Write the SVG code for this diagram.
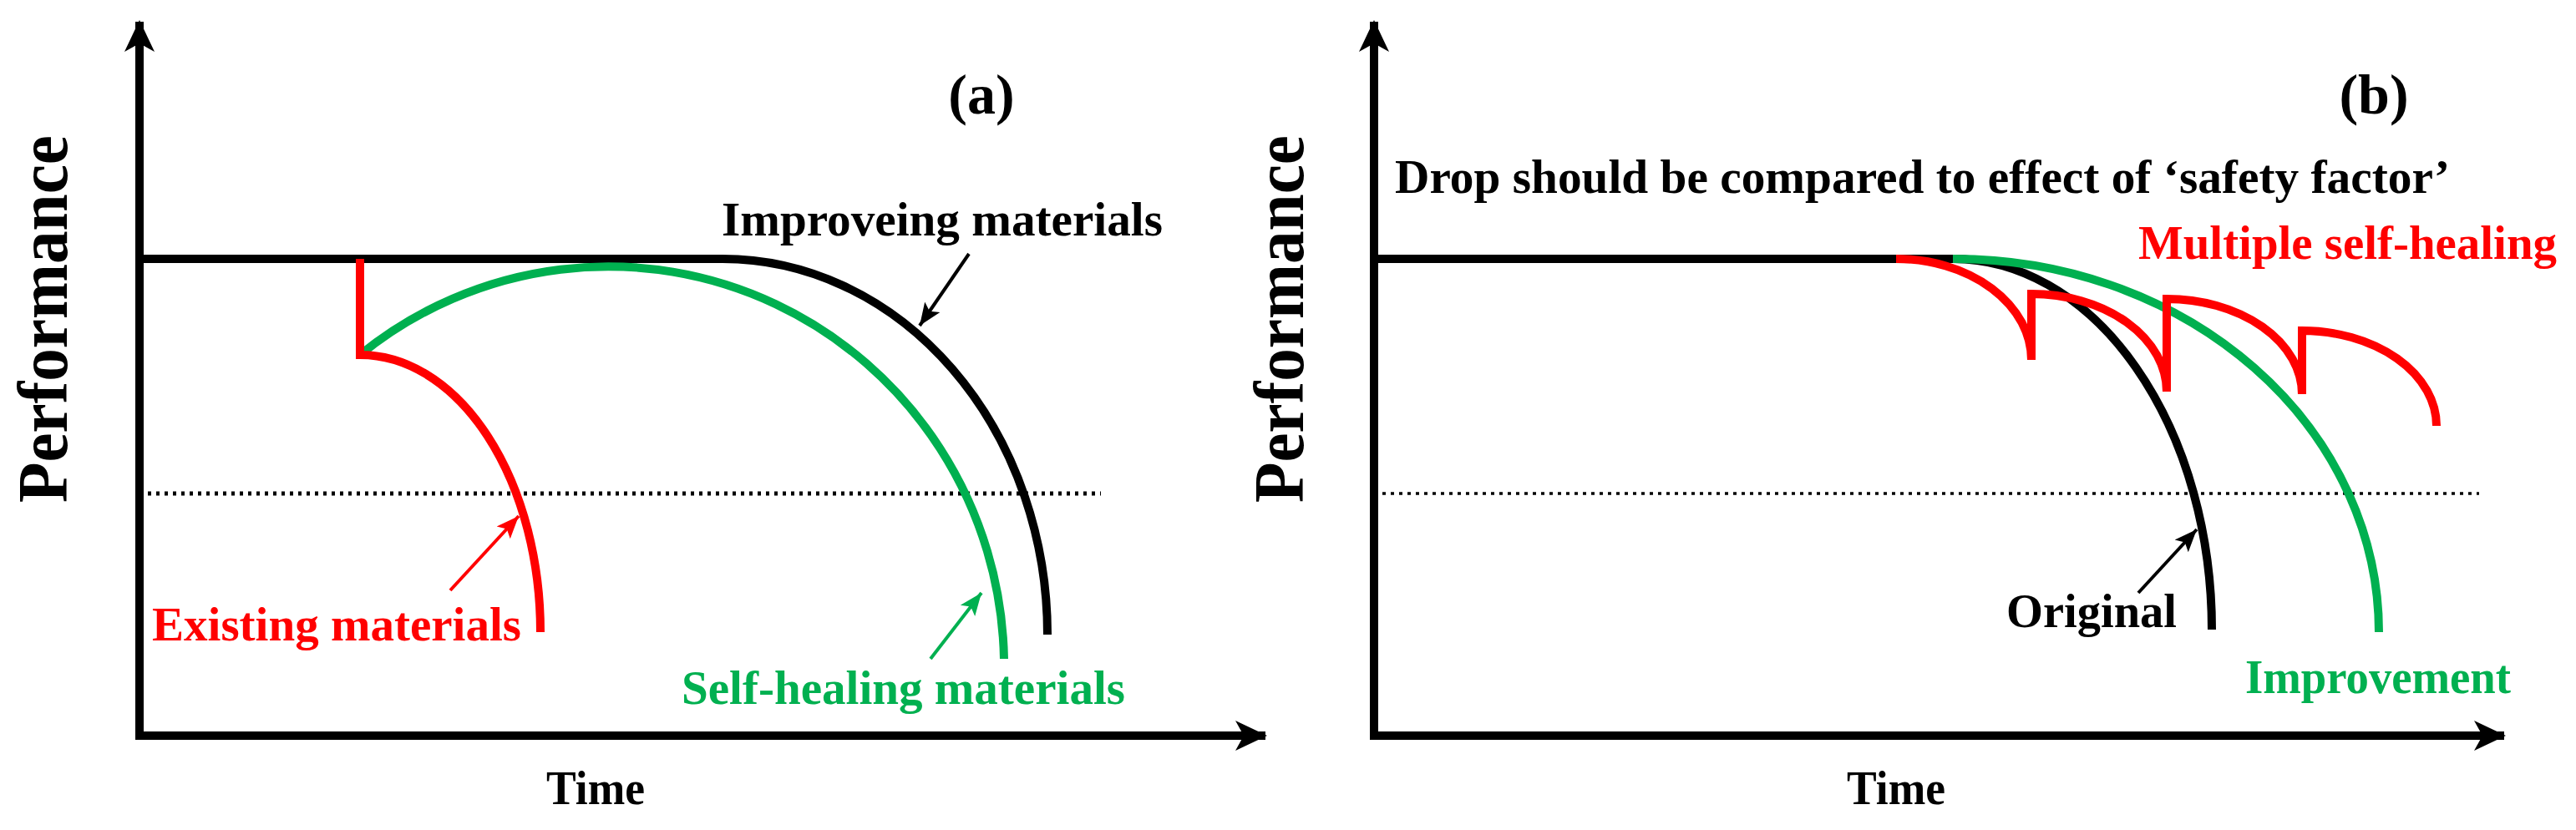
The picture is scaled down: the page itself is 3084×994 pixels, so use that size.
<svg xmlns="http://www.w3.org/2000/svg" width="3084" height="994" viewBox="0 0 3084 994">
<style>
text{font-family:"Liberation Serif","Times New Roman",serif;font-weight:bold}
.ax{stroke:#000;stroke-width:10;fill:none}
.c{fill:none;stroke-width:10}
.k{stroke:#000}.r{stroke:#ff0000}.g{stroke:#00b050}
.dot{stroke:#000;stroke-dasharray:4,6;fill:none}
.lb{font-size:58px}
</style>
<defs>
<marker id="ahk" markerWidth="28" markerHeight="28" refX="27" refY="14" orient="auto" markerUnits="userSpaceOnUse"><path d="M0,3 L27,14 L0,25 L6,14 Z" fill="#000"/></marker>
<marker id="ahr" markerWidth="28" markerHeight="28" refX="27" refY="14" orient="auto" markerUnits="userSpaceOnUse"><path d="M0,3 L27,14 L0,25 L6,14 Z" fill="#ff0000"/></marker>
<marker id="ahg" markerWidth="28" markerHeight="28" refX="27" refY="14" orient="auto" markerUnits="userSpaceOnUse"><path d="M0,3 L27,14 L0,25 L6,14 Z" fill="#00b050"/></marker>
<marker id="axh" markerWidth="40" markerHeight="40" refX="36" refY="20" orient="auto" markerUnits="userSpaceOnUse"><path d="M0,2 L38,20 L0,38 L10,20 Z" fill="#000"/></marker>
</defs>
<g id="panel-a">
<g id="axes-a">
<path class="ax" d="M167,881 L167,26" marker-end="url(#axh)"/>
<path class="ax" d="M162,881 L1515,881" marker-end="url(#axh)"/>
</g>
<line class="dot" x1="167" y1="591" x2="1318" y2="591" stroke-width="5"/>
<g id="curve-improving"><path class="c k" d="M167,310 L865,310 A389,450 0 0 1 1254,760"/></g>
<g id="curve-selfhealing"><path class="c g" d="M431,425 A474,479 0 0 1 1202,789"/></g>
<g id="curve-existing"><path class="c r" d="M431,310 L431,425 A216,332 0 0 1 647,757"/></g>
<g id="connectors-a">
<line x1="1160" y1="304" x2="1101" y2="390" stroke="#000" stroke-width="4" marker-end="url(#ahk)"/>
<line x1="539" y1="707" x2="621" y2="618" stroke="#ff0000" stroke-width="4" marker-end="url(#ahr)"/>
<line x1="1114" y1="789" x2="1175" y2="710" stroke="#00b050" stroke-width="4" marker-end="url(#ahg)"/>
</g>
<text x="1175" y="136" font-size="68" text-anchor="middle">(a)</text>
<text class="lb" x="864" y="282" textLength="528" lengthAdjust="spacingAndGlyphs">Improveing materials</text>
<text class="lb" x="182" y="767" fill="#ff0000" textLength="442" lengthAdjust="spacingAndGlyphs">Existing materials</text>
<text class="lb" x="816" y="843" fill="#00b050" textLength="531" lengthAdjust="spacingAndGlyphs">Self-healing materials</text>
<text class="lb" x="654" y="963" textLength="118" lengthAdjust="spacingAndGlyphs">Time</text>
<text x="0" y="0" font-size="84" transform="translate(80,602) rotate(-90)" textLength="440" lengthAdjust="spacingAndGlyphs">Performance</text>
</g>
<g id="panel-b">
<g id="axes-b">
<path class="ax" d="M1645,881 L1645,26" marker-end="url(#axh)"/>
<path class="ax" d="M1640,881 L2998,881" marker-end="url(#axh)"/>
</g>
<line class="dot" x1="1645" y1="591" x2="2968" y2="591" stroke-width="3.5"/>
<g id="curve-original"><path class="c k" d="M1645,310 L2338,310 A310,444 0 0 1 2648,754"/></g>
<g id="curve-improvement"><path class="c g" d="M2338,310 A508,447 0 0 1 2848,757"/></g>
<g id="curve-multiple"><path class="c r" d="M2270,310 A162,121 0 0 1 2432,431 L2432,352 A162,117 0 0 1 2594,469 L2594,358 A162,114 0 0 1 2756,472 L2756,396 A161,114 0 0 1 2917,510"/></g>
<g id="connectors-b">
<line x1="2560" y1="710" x2="2630" y2="634" stroke="#000" stroke-width="4" marker-end="url(#ahk)"/>
</g>
<text x="2842" y="136" font-size="68" text-anchor="middle">(b)</text>
<text class="lb" x="1670" y="231" textLength="1263" lengthAdjust="spacingAndGlyphs">Drop should be compared to effect of ‘safety factor’</text>
<text class="lb" x="2560" y="310" fill="#ff0000" textLength="501" lengthAdjust="spacingAndGlyphs">Multiple self-healing</text>
<text class="lb" x="2402" y="751" textLength="204" lengthAdjust="spacingAndGlyphs">Original</text>
<text class="lb" x="2688" y="830" fill="#00b050" textLength="318" lengthAdjust="spacingAndGlyphs">Improvement</text>
<text class="lb" x="2211" y="963" textLength="118" lengthAdjust="spacingAndGlyphs">Time</text>
<text x="0" y="0" font-size="84" transform="translate(1560,602) rotate(-90)" textLength="440" lengthAdjust="spacingAndGlyphs">Performance</text>
</g>
</svg>
